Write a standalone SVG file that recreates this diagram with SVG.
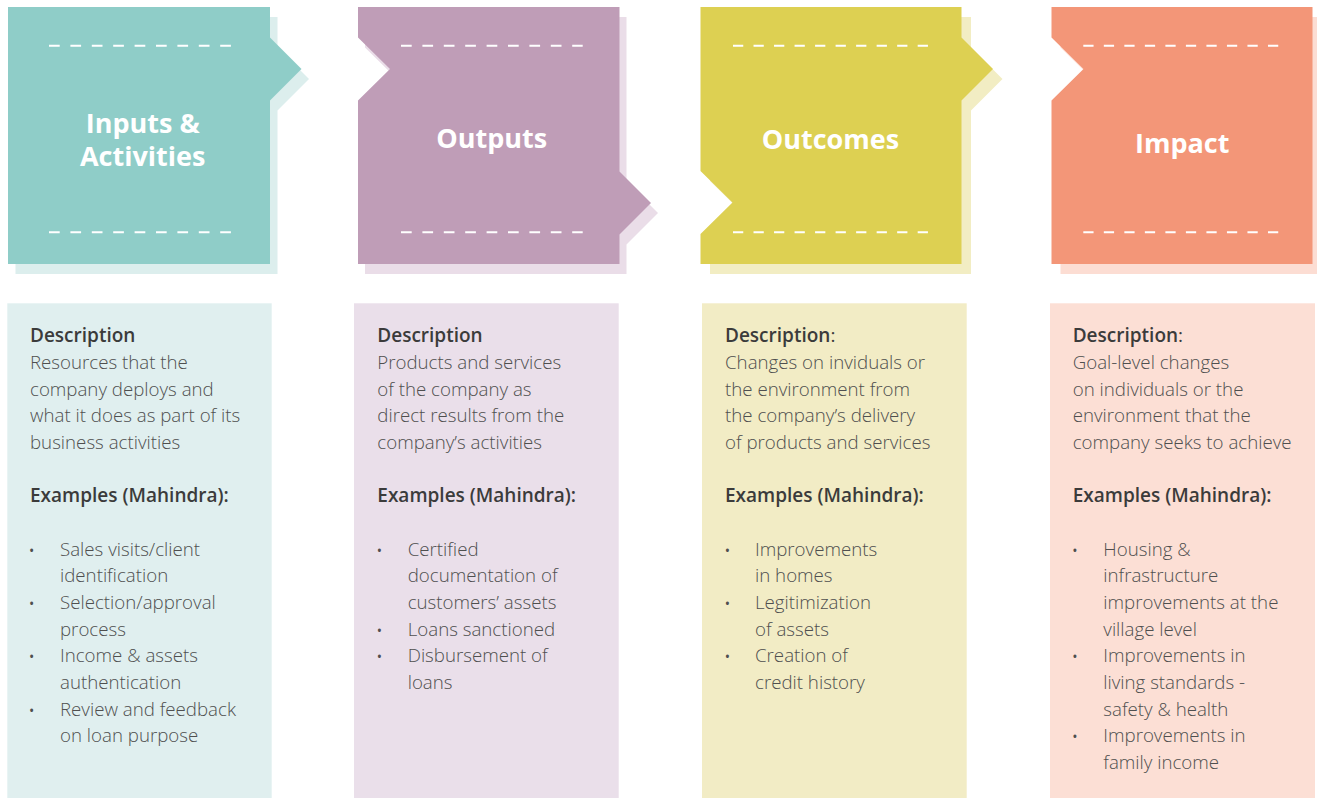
<svg xmlns="http://www.w3.org/2000/svg" width="1317" height="798" viewBox="0 0 1317 798">
<style>
.title{font-family:"Open Sans","Liberation Sans",sans-serif;font-weight:700;font-size:27px;fill:#ffffff;text-anchor:middle}
.dash{stroke:#ffffff;stroke-width:2;fill:none}
.d9{stroke-dasharray:10.7 10.7}
.d10{stroke-dasharray:10.26 10.26}
.hd{font-family:"Open Sans","Liberation Sans",sans-serif;font-weight:600;font-size:19px;fill:#3b3b3b}
.body{font-family:"Open Sans","Liberation Sans",sans-serif;font-weight:300;font-size:18.7px;fill:#4f4f4f}
.bul{font-family:"Open Sans","Liberation Sans",sans-serif;font-size:14px;fill:#4f4f4f;text-anchor:middle}
</style>
<rect x="0" y="0" width="1317" height="798" fill="#ffffff"/>

<g id="inputs-header">
<path d="M8,7 H270 V37.5 L301.5,69 L270,100.5 V264 H8 Z" fill="#dceeed" transform="translate(7.5,10)"/>
<path d="M8,7 H270 V37.5 L301.5,69 L270,100.5 V264 H8 Z" fill="#8fcdc8"/>
<line class="dash d9" x1="49" y1="45.7" x2="231" y2="45.7"/>
<line class="dash d9" x1="49" y1="232.3" x2="231" y2="232.3"/>
<text class="title" x="142.7" y="133.3">Inputs &amp;</text>
<text class="title" x="142.7" y="165.7">Activities</text>
</g>

<g id="outputs-header">
<path d="M358,7 H619.5 V171.5 L651,203 L619.5,234.5 V264 H358 V100.5 L390,69 L358,37.5 Z" fill="#eadde8" transform="translate(7,10)"/>
<path d="M358,7 H619.5 V171.5 L651,203 L619.5,234.5 V264 H358 V100.5 L390,69 L358,37.5 Z" fill="#bf9db7"/>
<line class="dash d9" x1="401" y1="45.7" x2="582.7" y2="45.7"/>
<line class="dash d9" x1="401" y1="232.3" x2="582.7" y2="232.3"/>
<text class="title" x="491.7" y="147.7">Outputs</text>
</g>

<g id="outcomes-header">
<path d="M700.5,7 H961.5 V37.5 L993,69 L961.5,100.5 V264 H700.5 V234 L732.5,202.5 L700.5,171 Z" fill="#f2edc3" transform="translate(9.5,10)"/>
<path d="M700.5,7 H961.5 V37.5 L993,69 L961.5,100.5 V264 H700.5 V234 L732.5,202.5 L700.5,171 Z" fill="#ddd052"/>
<line class="dash d10" x1="733" y1="45.7" x2="928.3" y2="45.7"/>
<line class="dash d10" x1="733" y1="232.3" x2="928.3" y2="232.3"/>
<text class="title" x="830.5" y="148.5">Outcomes</text>
</g>

<g id="impact-header">
<path d="M1051.5,7 H1312.5 V264 H1051.5 V100.5 L1083.5,69 L1051.5,37.5 Z" fill="#fcddd3" transform="translate(9,10)"/>
<path d="M1051.5,7 H1312.5 V264 H1051.5 V100.5 L1083.5,69 L1051.5,37.5 Z" fill="#f39678"/>
<line class="dash d10" x1="1083.3" y1="45.7" x2="1278.3" y2="45.7"/>
<line class="dash d10" x1="1083.3" y1="232.3" x2="1278.3" y2="232.3"/>
<text class="title" x="1182.2" y="153">Impact</text>
</g>

<g id="inputs-detail">
<rect x="7.3" y="303.3" width="264.4" height="494.7" fill="#e0efef"/>
<text class="hd" x="30" y="341.7">Description</text>
<text class="body"><tspan x="30" y="369">Resources that the</tspan><tspan x="30" y="395.7">company deploys and</tspan><tspan x="30" y="422.3">what it does as part of its</tspan><tspan x="30" y="449">business activities</tspan></text>
<text class="hd" x="30" y="501.7">Examples (Mahindra):</text>
<text class="bul"><tspan x="31.7" y="555.7">•</tspan><tspan x="31.7" y="609">•</tspan><tspan x="31.7" y="662.3">•</tspan><tspan x="31.7" y="715.7">•</tspan></text>
<text class="body"><tspan x="60" y="555.7">Sales visits/client</tspan><tspan x="60" y="582.3">identification</tspan><tspan x="60" y="609">Selection/approval</tspan><tspan x="60" y="635.7">process</tspan><tspan x="60" y="662.3">Income &amp; assets</tspan><tspan x="60" y="689">authentication</tspan><tspan x="60" y="715.7">Review and feedback</tspan><tspan x="60" y="742.3">on loan purpose</tspan></text>
</g>

<g id="outputs-detail">
<rect x="354" y="303.3" width="264.7" height="494.7" fill="#eadfea"/>
<text class="hd" x="377.3" y="341.7">Description</text>
<text class="body"><tspan x="377.3" y="369">Products and services</tspan><tspan x="377.3" y="395.7">of the company as</tspan><tspan x="377.3" y="422.3">direct results from the</tspan><tspan x="377.3" y="449">company’s activities</tspan></text>
<text class="hd" x="377.3" y="501.7">Examples (Mahindra):</text>
<text class="bul"><tspan x="379.3" y="555.7">•</tspan><tspan x="379.3" y="635.7">•</tspan><tspan x="379.3" y="662.3">•</tspan></text>
<text class="body"><tspan x="407.7" y="555.7">Certified</tspan><tspan x="407.7" y="582.3">documentation of</tspan><tspan x="407.7" y="609">customers’ assets</tspan><tspan x="407.7" y="635.7">Loans sanctioned</tspan><tspan x="407.7" y="662.3">Disbursement of</tspan><tspan x="407.7" y="689">loans</tspan></text>
</g>

<g id="outcomes-detail">
<rect x="702" y="303.3" width="264.7" height="494.7" fill="#f2ecc5"/>
<text class="hd" x="725" y="341.7">Description<tspan font-weight="400">:</tspan></text>
<text class="body"><tspan x="725" y="369">Changes on inviduals or</tspan><tspan x="725" y="395.7">the environment from</tspan><tspan x="725" y="422.3">the company’s delivery</tspan><tspan x="725" y="449">of products and services</tspan></text>
<text class="hd" x="725" y="501.7">Examples (Mahindra):</text>
<text class="bul"><tspan x="727.3" y="555.7">•</tspan><tspan x="727.3" y="609">•</tspan><tspan x="727.3" y="662.3">•</tspan></text>
<text class="body"><tspan x="755" y="555.7">Improvements</tspan><tspan x="755" y="582.3">in homes</tspan><tspan x="755" y="609">Legitimization</tspan><tspan x="755" y="635.7">of assets</tspan><tspan x="755" y="662.3">Creation of</tspan><tspan x="755" y="689">credit history</tspan></text>
</g>

<g id="impact-detail">
<rect x="1050" y="303.3" width="265" height="494.7" fill="#fcdfd5"/>
<text class="hd" x="1072.7" y="341.7">Description<tspan font-weight="400">:</tspan></text>
<text class="body"><tspan x="1072.7" y="369">Goal-level changes</tspan><tspan x="1072.7" y="395.7">on individuals or the</tspan><tspan x="1072.7" y="422.3">environment that the</tspan><tspan x="1072.7" y="449">company seeks to achieve</tspan></text>
<text class="hd" x="1072.7" y="501.7">Examples (Mahindra):</text>
<text class="bul"><tspan x="1075" y="555.7">•</tspan><tspan x="1075" y="662.3">•</tspan><tspan x="1075" y="742.3">•</tspan></text>
<text class="body"><tspan x="1103.3" y="555.7">Housing &amp;</tspan><tspan x="1103.3" y="582.3">infrastructure</tspan><tspan x="1103.3" y="609">improvements at the</tspan><tspan x="1103.3" y="635.7">village level</tspan><tspan x="1103.3" y="662.3">Improvements in</tspan><tspan x="1103.3" y="689">living standards -</tspan><tspan x="1103.3" y="715.7">safety &amp; health</tspan><tspan x="1103.3" y="742.3">Improvements in</tspan><tspan x="1103.3" y="769">family income</tspan></text>
</g>
</svg>
